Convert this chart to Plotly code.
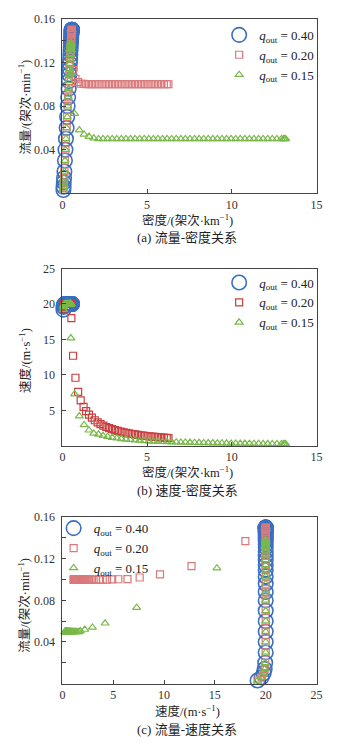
import plotly.graph_objects as go

W, H = 342, 747

# ---------------- data ----------------
# q_out = 0.40 (free flow only)
q40_density = [0.06, 0.07, 0.08, 0.10, 0.12, 0.15, 0.18, 0.21, 0.25, 0.28, 0.31, 0.34,
               0.37, 0.39, 0.41, 0.43, 0.44, 0.46, 0.47, 0.48, 0.49, 0.50, 0.51, 0.515,
               0.52, 0.525, 0.53, 0.535, 0.54, 0.545, 0.55, 0.55, 0.555, 0.56, 0.56, 0.565]
q40_speed = [19.2, 19.6, 19.8, 19.9, 19.95, 20.0, 20.0, 20.0, 20.0, 20.0, 20.0, 20.0,
             20.0, 20.0, 20.0, 20.0, 20.0, 20.0, 20.0, 20.0, 20.0, 20.0, 20.0, 20.0,
             20.0, 20.0, 20.0, 20.0, 20.0, 20.0, 20.0, 20.0, 20.0, 20.0, 20.0, 20.0]
q40_flow = [0.003, 0.006, 0.010, 0.014, 0.020, 0.030, 0.040, 0.050, 0.060, 0.070, 0.080, 0.088,
            0.096, 0.103, 0.109, 0.114, 0.119, 0.123, 0.127, 0.131, 0.134, 0.137, 0.139, 0.141,
            0.143, 0.145, 0.146, 0.147, 0.148, 0.149, 0.1495, 0.150, 0.150, 0.150, 0.150, 0.150]

# q_out = 0.20
q20_density = [0.06, 0.07, 0.08, 0.10, 0.12, 0.15, 0.18, 0.21, 0.25, 0.28, 0.31, 0.34,
               0.37, 0.39, 0.41, 0.43, 0.44, 0.46, 0.47, 0.48, 0.49, 0.50, 0.51, 0.515,
               0.52, 0.525, 0.53, 0.535, 0.54, 0.545, 0.55, 0.55,
               0.53, 0.63, 0.77, 0.93, 1.08, 1.25, 1.40,
               1.57, 1.74, 1.91, 2.08, 2.25, 2.42, 2.59, 2.76, 2.93, 3.10, 3.27, 3.44,
               3.61, 3.78, 3.95, 4.12, 4.29, 4.46, 4.63, 4.80, 4.97, 5.14, 5.31, 5.48,
               5.65, 5.82, 5.99, 6.16, 6.26]
q20_speed = [19.2, 19.6, 19.8, 19.9, 19.95, 20.0, 20.0, 20.0, 20.0, 20.0, 20.0, 20.0,
             20.0, 20.0, 20.0, 20.0, 20.0, 20.0, 20.0, 20.0, 20.0, 20.0, 20.0, 20.0,
             20.0, 20.0, 20.0, 20.0, 20.0, 20.0, 20.0, 20.0,
             18.0, 12.7, 9.6, 7.6, 6.4, 5.5, 4.9,
             4.39, 3.97, 3.61, 3.32, 3.07, 2.85, 2.66, 2.50, 2.35, 2.23, 2.11, 2.01,
             1.91, 1.83, 1.75, 1.67, 1.61, 1.55, 1.49, 1.44, 1.39, 1.34, 1.30, 1.26,
             1.22, 1.19, 1.15, 1.12, 1.10]
q20_flow = [0.003, 0.006, 0.010, 0.014, 0.020, 0.030, 0.040, 0.050, 0.060, 0.070, 0.080, 0.088,
            0.096, 0.103, 0.109, 0.114, 0.119, 0.123, 0.127, 0.131, 0.134, 0.137, 0.139, 0.141,
            0.143, 0.145, 0.146, 0.147, 0.148, 0.149, 0.150, 0.150,
            0.137, 0.113, 0.105, 0.102, 0.1005, 0.1003, 0.1002,
            0.100, 0.100, 0.100, 0.100, 0.100, 0.100, 0.100, 0.100, 0.100, 0.100, 0.100, 0.100,
            0.100, 0.100, 0.100, 0.100, 0.100, 0.100, 0.100, 0.100, 0.100, 0.100, 0.100, 0.100,
            0.100, 0.100, 0.100, 0.100, 0.100]

# q_out = 0.15
q15_density = [0.06, 0.07, 0.08, 0.10, 0.12, 0.15, 0.18, 0.21, 0.25, 0.28, 0.31, 0.34,
               0.37, 0.39, 0.41, 0.43, 0.44, 0.46, 0.47, 0.475, 0.48, 0.49, 0.49, 0.495,
               0.50, 0.50, 0.505,
               0.50, 0.72, 1.00, 1.28, 1.57, 1.85,
               2.13, 2.40, 2.67, 2.94, 3.21, 3.48, 3.75, 4.02, 4.29, 4.56, 4.83, 5.10,
               5.37, 5.64, 5.91, 6.18, 6.45, 6.72, 6.99, 7.26, 7.53, 7.80, 8.07, 8.34,
               8.61, 8.88, 9.15, 9.42, 9.69, 9.96, 10.23, 10.50, 10.77, 11.04, 11.31, 11.58,
               11.85, 12.12, 12.39, 12.66, 12.93, 13.05, 13.12, 13.18]
q15_speed = [19.2, 19.6, 19.8, 19.9, 19.95, 20.0, 20.0, 20.0, 20.0, 20.0, 20.0, 20.0,
             20.0, 20.0, 20.0, 20.0, 20.0, 20.0, 20.0, 20.0, 20.0, 20.0, 20.0, 20.0,
             20.0, 20.0, 20.0,
             15.2, 7.3, 4.2, 2.95, 2.2, 1.76,
             1.62, 1.44, 1.29, 1.17, 1.07, 0.99, 0.92, 0.86, 0.80, 0.76, 0.71, 0.68,
             0.64, 0.61, 0.58, 0.56, 0.53, 0.51, 0.49, 0.475, 0.46, 0.44, 0.43, 0.41,
             0.40, 0.39, 0.38, 0.366, 0.356, 0.346, 0.337, 0.329, 0.320, 0.3125, 0.305, 0.298,
             0.291, 0.285, 0.278, 0.2725, 0.267, 0.264, 0.263, 0.262]
q15_flow = [0.003, 0.006, 0.010, 0.014, 0.020, 0.030, 0.040, 0.050, 0.060, 0.070, 0.080, 0.088,
            0.096, 0.103, 0.109, 0.114, 0.119, 0.123, 0.127, 0.130, 0.132, 0.134, 0.135, 0.136,
            0.137, 0.137, 0.138,
            0.111, 0.073, 0.058, 0.054, 0.052, 0.0505,
            0.0498, 0.0498, 0.0498, 0.0498, 0.0498, 0.0498, 0.0498, 0.0498, 0.0498, 0.0498, 0.0498, 0.0498,
            0.0498, 0.0498, 0.0498, 0.0498, 0.0498, 0.0498, 0.0498, 0.0498, 0.0498, 0.0498, 0.0498, 0.0498,
            0.0498, 0.0498, 0.0498, 0.0498, 0.0498, 0.0498, 0.0498, 0.0498, 0.0498, 0.0498, 0.0498, 0.0498,
            0.0498, 0.0498, 0.0498, 0.0498, 0.0498, 0.0498, 0.0498, 0.0498]

series_names = ["<i>q</i><sub>out</sub> = 0.40",
                "<i>q</i><sub>out</sub> = 0.20",
                "<i>q</i><sub>out</sub> = 0.15"]

flow_ticks = [0, 0.02, 0.04, 0.06, 0.08, 0.10, 0.12, 0.14, 0.16]
flow_ticktext = ["", "", "0.04", "", "0.08", "", "0.12", "", "0.16"]
density_ticks = [0, 5, 10, 15]
speed_ticks = [0, 5, 10, 15, 20, 25]
speed_ytext = ["", "5", "10", "15", "20", "25"]

# --------------- styling ---------------
FONT = "Liberation Serif, Times New Roman, Noto Sans CJK SC, serif"
BLUE = "#3b6fc0"
RED_LIGHT = "#d9797b"
RED_DARK = "#c8403f"
GREEN = "#79b94a"

series_data = [
    (q40_density, q40_speed, q40_flow, dict(symbol="circle-open", size=14.5, line=dict(width=1.6)), BLUE, BLUE),
    (q20_density, q20_speed, q20_flow, dict(symbol="square-open", size=7, line=dict(width=1.2)), RED_LIGHT, RED_DARK),
    (q15_density, q15_speed, q15_flow, dict(symbol="triangle-up-open", size=7, line=dict(width=1.2)), GREEN, GREEN),
]

fig = go.Figure()

for i, (dens, spd, flw, mk, c_light, c_dark) in enumerate(series_data):
    # (a) flow vs density
    fig.add_trace(go.Scatter(x=dens, y=flw, mode="markers", name=series_names[i],
                             xaxis="x", yaxis="y", legend="legend",
                             marker=dict(color=c_light, **mk), cliponaxis=False))
    # (b) speed vs density
    fig.add_trace(go.Scatter(x=dens, y=spd, mode="markers", name=series_names[i],
                             xaxis="x2", yaxis="y2", legend="legend2",
                             marker=dict(color=c_dark, **mk), cliponaxis=False))
    # (c) flow vs speed
    fig.add_trace(go.Scatter(x=spd, y=flw, mode="markers", name=series_names[i],
                             xaxis="x3", yaxis="y3", legend="legend3",
                             marker=dict(color=c_light, **mk), cliponaxis=False))

def px_to_paper_y(py):
    return 1 - py / H

xdom = [61 / W, 322 / W]
axis_common = dict(showline=True, mirror=True, linecolor="#444", linewidth=1,
                   ticks="inside", ticklen=4, tickcolor="#444", showgrid=False,
                   zeroline=False, tickfont=dict(family=FONT, size=12, color="#333"))

layout = dict(
    width=W, height=H, margin=dict(l=0, r=0, t=0, b=0),
    paper_bgcolor="white", plot_bgcolor="white",
    font=dict(family=FONT, size=12, color="#333"),
    xaxis=dict(domain=xdom, anchor="y", range=[0, 15], tickvals=density_ticks, **axis_common),
    yaxis=dict(domain=[px_to_paper_y(188), px_to_paper_y(12)], anchor="x", range=[0, 0.16],
               tickvals=flow_ticks, ticktext=flow_ticktext, ticklabelstandoff=4, **axis_common),
    xaxis2=dict(domain=xdom, anchor="y2", range=[0, 15], tickvals=density_ticks, **axis_common),
    yaxis2=dict(domain=[px_to_paper_y(443), px_to_paper_y(264)], anchor="x2", range=[0, 25],
                tickvals=speed_ticks, ticktext=speed_ytext, ticklabelstandoff=4, **axis_common),
    xaxis3=dict(domain=xdom, anchor="y3", range=[0, 25], tickvals=speed_ticks, **axis_common),
    yaxis3=dict(domain=[px_to_paper_y(683), px_to_paper_y(515)], anchor="x3", range=[0, 0.16],
                tickvals=flow_ticks, ticktext=flow_ticktext, ticklabelstandoff=4, **axis_common),
)

leg_common = dict(xanchor="left", yanchor="top", bgcolor="rgba(0,0,0,0)", borderwidth=0,
                  font=dict(family=FONT, size=13, color="#222"), tracegroupgap=0, itemwidth=30)
layout["legend"] = dict(x=222 / W, y=px_to_paper_y(13), **leg_common)
layout["legend2"] = dict(x=222 / W, y=px_to_paper_y(263), **leg_common)
layout["legend3"] = dict(x=52 / W, y=px_to_paper_y(511), **leg_common)
layout["showlegend"] = True
fig.update_layout(**layout)

title_font = dict(family=FONT, size=12.5, color="#222")
cap_font = dict(family=FONT, size=13, color="#222")
annotations = [
    # y titles
    dict(text="流量/(架次·min<sup>−1</sup>)", x=22 / W, y=px_to_paper_y(101), textangle=-90, font=title_font),
    dict(text="速度/(m·s<sup>−1</sup>)", x=22 / W, y=px_to_paper_y(357), textangle=-90, font=title_font),
    dict(text="流量/(架次·min<sup>−1</sup>)", x=22 / W, y=px_to_paper_y(604), textangle=-90, font=title_font),
    # x titles
    dict(text="密度/(架次·km<sup>−1</sup>)", x=189 / W, y=px_to_paper_y(215), font=title_font),
    dict(text="密度/(架次·km<sup>−1</sup>)", x=189 / W, y=px_to_paper_y(469), font=title_font),
    dict(text="速度/(m·s<sup>−1</sup>)", x=189 / W, y=px_to_paper_y(711), font=title_font),
    # captions
    dict(text="(a) 流量-密度关系", x=189 / W, y=px_to_paper_y(233), font=cap_font),
    dict(text="(b) 速度-密度关系", x=189 / W, y=px_to_paper_y(488), font=cap_font),
    dict(text="(c) 流量-速度关系", x=189 / W, y=px_to_paper_y(729), font=cap_font),
]
for a in annotations:
    a.update(xref="paper", yref="paper", showarrow=False, xanchor="center", yanchor="middle")
fig.update_layout(annotations=annotations)

fig.write_html("out.html")
